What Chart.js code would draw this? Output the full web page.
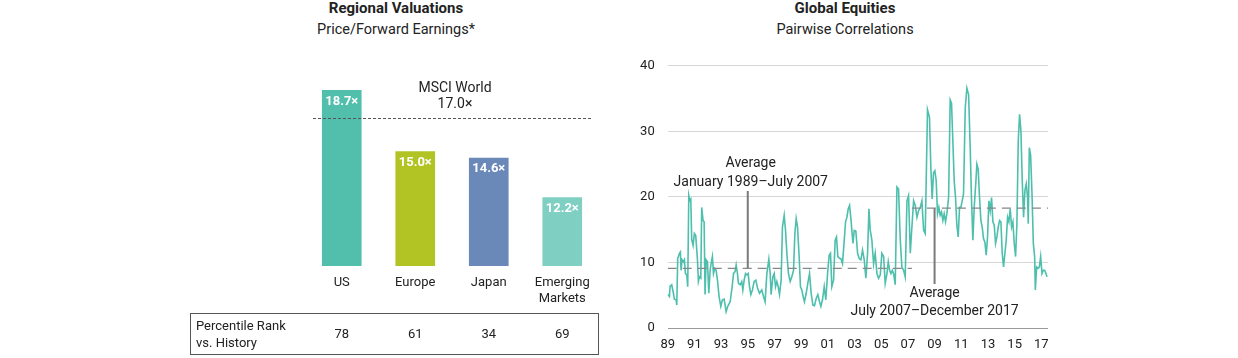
<!DOCTYPE html>
<html>
<head>
<meta charset="utf-8">
<script src="https://cdn.jsdelivr.net/npm/chart.js@4.4.1/dist/chart.umd.min.js"></script>
<style>
  body { margin: 0; background: #fff; font-family: Roboto, sans-serif; color: #222; }
  #page { position: relative; width: 1238px; height: 358px; overflow: hidden; }
  .title { position: absolute; text-align: center; font-size: 14.5px; line-height: 17px; }
  .title b { display: block; font-weight: 700; font-size: 15px; }
  .title span { display: block; margin-top: 4px; }
  .box { position: absolute; }
</style>
</head>
<body>
<div id="page">
  <div class="title" style="left:296px; top:0; width:200px;"><b>Regional Valuations</b><span>Price/Forward Earnings*</span></div>
  <div class="title" style="left:745px; top:0; width:200px;"><b>Global Equities</b><span>Pairwise Correlations</span></div>
  <div class="box" style="left:180px; top:60px; width:430px; height:298px;"><canvas id="valChart"></canvas></div>
  <div class="box" style="left:620px; top:45px; width:440px; height:313px;"><canvas id="corrChart"></canvas></div>
</div>
<script>
// left panel: regional valuations
const regions = ['US', 'Europe', 'Japan', ['Emerging', 'Markets']];
const peRatios = [18.7, 15.0, 14.6, 12.2];
const percentileRanks = [78, 61, 34, 69];
const barColors = ['#52bfad', '#b1c424', '#6a88b8', '#7fd0c3'];
const msciWorld = 17.0;

// right panel: pairwise correlations (year, value)
const corrYears = [
  1989.00, 1989.13, 1989.18, 1989.30, 1989.43, 1989.50, 1989.63, 1989.68, 1989.75, 1989.88,
  1989.95, 1990.00, 1990.08, 1990.18, 1990.25, 1990.33, 1990.43, 1990.50, 1990.58, 1990.65,
  1990.73, 1990.80, 1990.90, 1991.00, 1991.10, 1991.23, 1991.30, 1991.38, 1991.48, 1991.55,
  1991.65, 1991.73, 1991.80, 1991.88, 1991.98, 1992.08, 1992.18, 1992.25, 1992.35, 1992.43,
  1992.53, 1992.63, 1992.73, 1992.85, 1992.98, 1993.10, 1993.23, 1993.38, 1993.50, 1993.68,
  1993.83, 1993.93, 1994.05, 1994.13, 1994.23, 1994.30, 1994.43, 1994.55, 1994.63, 1994.73,
  1994.83, 1994.93, 1995.03, 1995.13, 1995.23, 1995.35, 1995.48, 1995.60, 1995.73, 1995.88,
  1996.05, 1996.18, 1996.30, 1996.43, 1996.58, 1996.68, 1996.75, 1996.88, 1996.98, 1997.08,
  1997.18, 1997.28, 1997.38, 1997.50, 1997.60, 1997.73, 1997.83, 1997.93, 1998.05, 1998.18,
  1998.30, 1998.43, 1998.53, 1998.63, 1998.73, 1998.85, 1998.95, 1999.05, 1999.15, 1999.25,
  1999.38, 1999.50, 1999.63, 1999.75, 1999.88, 2000.00, 2000.13, 2000.25, 2000.38, 2000.48,
  2000.60, 2000.73, 2000.85, 2000.98, 2001.10, 2001.20, 2001.30, 2001.43, 2001.55, 2001.65,
  2001.75, 2001.88, 2001.98, 2002.10, 2002.23, 2002.33, 2002.43, 2002.53, 2002.63, 2002.75,
  2002.88, 2002.98, 2003.10, 2003.23, 2003.35, 2003.48, 2003.60, 2003.73, 2003.85, 2003.98,
  2004.08, 2004.18, 2004.30, 2004.43, 2004.55, 2004.68, 2004.80, 2004.93, 2005.05, 2005.18,
  2005.30, 2005.43, 2005.53, 2005.63, 2005.73, 2005.83, 2005.93, 2006.05, 2006.18, 2006.30,
  2006.43, 2006.55, 2006.68, 2006.80, 2006.93, 2007.05, 2007.18, 2007.30, 2007.43, 2007.55,
  2007.68, 2007.80, 2007.93, 2008.05, 2008.18, 2008.30, 2008.47, 2008.62, 2008.72, 2008.82,
  2008.92, 2009.02, 2009.12, 2009.22, 2009.32, 2009.42, 2009.52, 2009.62, 2009.72, 2009.82,
  2009.92, 2010.05, 2010.17, 2010.27, 2010.37, 2010.47, 2010.57, 2010.67, 2010.77, 2010.87,
  2010.97, 2011.07, 2011.17, 2011.30, 2011.42, 2011.55, 2011.67, 2011.77, 2011.87, 2011.97,
  2012.10, 2012.17, 2012.27, 2012.37, 2012.47, 2012.57, 2012.67, 2012.77, 2012.87, 2012.97,
  2013.07, 2013.17, 2013.27, 2013.37, 2013.47, 2013.57, 2013.67, 2013.77, 2013.87, 2013.97,
  2014.07, 2014.17, 2014.27, 2014.37, 2014.47, 2014.57, 2014.67, 2014.77, 2014.87, 2014.97,
  2015.07, 2015.17, 2015.27, 2015.37, 2015.47, 2015.57, 2015.67, 2015.77, 2015.87, 2015.97,
  2016.02, 2016.10, 2016.20, 2016.30, 2016.40, 2016.50, 2016.55, 2016.65, 2016.75, 2016.85,
  2016.95, 2017.05, 2017.15, 2017.25, 2017.35, 2017.42
];
const corrValues = [
  5.1, 4.8, 6.4, 6.6, 5.3, 4.4, 4.3, 3.5, 10.6, 11.4,
  11.6, 8.8, 10.4, 10.1, 10.4, 8.3, 8.1, 6.3, 20.2, 19.5,
  19.7, 13.5, 12.6, 14.4, 14.1, 10.4, 7.1, 7.8, 7.6, 18.4,
  16.4, 16.2, 5.1, 10.4, 10.1, 5.3, 8.8, 9.8, 10.9, 8.3,
  9.1, 8.8, 7.3, 4.8, 3.3, 4.3, 4.4, 2.5, 3.3, 4.0,
  6.3, 8.3, 8.6, 9.6, 8.3, 6.8, 6.6, 7.1, 5.8, 7.3,
  8.3, 8.1, 8.3, 6.3, 5.1, 5.8, 7.1, 7.3, 6.1, 5.3,
  5.8, 4.8, 4.0, 8.3, 10.5, 8.3, 5.1, 7.8, 8.3, 6.3,
  7.1, 6.3, 5.1, 7.3, 15.4, 17.2, 14.9, 11.4, 8.3, 7.1,
  7.8, 8.8, 14.4, 16.7, 15.4, 10.9, 6.3, 5.8, 4.8, 4.0,
  5.3, 6.8, 8.3, 5.3, 3.5, 3.4, 4.5, 5.1, 4.0, 3.3,
  4.3, 6.3, 4.3, 8.3, 11.1, 11.4, 6.3, 7.3, 13.4, 13.9,
  10.9, 10.6, 10.6, 9.8, 13.4, 16.2, 16.9, 18.2, 18.7, 16.2,
  12.9, 14.9, 14.8, 11.4, 10.6, 10.4, 11.9, 10.4, 7.6, 11.4,
  18.2, 14.9, 13.4, 9.8, 11.4, 8.3, 7.6, 8.1, 11.4, 10.9,
  6.8, 8.3, 10.1, 8.8, 8.3, 8.8, 8.3, 6.6, 21.5, 21.2,
  13.4, 9.3, 8.8, 7.8, 19.4, 20.2, 11.4, 15.4, 19.4, 18.7,
  16.9, 17.9, 18.4, 19.4, 14.9, 14.4, 33.3, 32.1, 24.5, 19.7,
  23.7, 24.0, 22.5, 17.4, 18.4, 17.2, 17.7, 16.4, 17.4, 16.2,
  17.4, 19.9, 34.8, 34.3, 28.5, 22.5, 19.9, 15.7, 13.9, 18.4,
  18.4, 19.4, 20.5, 33.6, 36.6, 35.6, 27.5, 19.4, 13.4, 18.4,
  22.5, 25.0, 24.2, 19.9, 16.4, 15.4, 13.6, 13.1, 11.1, 13.9,
  19.4, 17.9, 19.9, 16.2, 15.7, 12.9, 13.9, 15.4, 16.4, 16.2,
  11.4, 9.3, 11.4, 13.4, 16.9, 16.2, 18.2, 15.4, 16.2, 12.9,
  10.9, 15.9, 28.5, 32.6, 30.1, 22.5, 16.9, 21.0, 22.0, 19.9,
  15.9, 27.5, 26.3, 20.5, 12.9, 10.9, 5.8, 9.3, 9.1, 9.3,
  10.9, 8.3, 8.8, 8.8, 8.3, 7.8
];
const xTickYears = [1989, 1991, 1993, 1995, 1997, 1999, 2001, 2003, 2005, 2007, 2009, 2011, 2013, 2015, 2017];
const avgBefore = 9.1;   // Jan 1989 - Jul 2007
const avgAfter = 18.3;   // Jul 2007 - Dec 2017

const FONT = 'Roboto, sans-serif';
const TEXT = '#222';

// bar value labels, MSCI line and the percentile table
const valExtras = {
  id: 'valExtras',
  afterDatasetsDraw(chart) {
    const ctx = chart.ctx, y = chart.scales.y, area = chart.chartArea;
    const meta = chart.getDatasetMeta(0);
    ctx.save();
    // dashed MSCI World line
    const my = Math.round(y.getPixelForValue(msciWorld)) + 0.5;
    ctx.strokeStyle = '#555';
    ctx.lineWidth = 1;
    ctx.setLineDash([3, 2]);
    ctx.beginPath();
    ctx.moveTo(area.left + 8, my);
    ctx.lineTo(area.right - 8, my);
    ctx.stroke();
    ctx.setLineDash([]);
    ctx.fillStyle = TEXT;
    ctx.font = '14px ' + FONT;
    ctx.textAlign = 'center';
    ctx.textBaseline = 'middle';
    const mx = (meta.data[1].x + meta.data[2].x) / 2 + 3;
    ctx.fillText('MSCI World', mx, my - 30);
    ctx.fillText(msciWorld.toFixed(1) + '×', mx, my - 14);
    // value labels inside bars
    ctx.fillStyle = '#fff';
    ctx.font = 'bold 13px ' + FONT;
    meta.data.forEach((bar, i) => {
      ctx.fillText(peRatios[i].toFixed(1) + '×', bar.x, bar.y + 12);
    });
    // table
    ctx.strokeStyle = '#555';
    ctx.strokeRect(10.5, 253.5, 408, 41);
    ctx.fillStyle = TEXT;
    ctx.font = '13px ' + FONT;
    ctx.textAlign = 'left';
    ctx.fillText('Percentile Rank', 16, 267);
    ctx.fillText('vs. History', 16, 284);
    ctx.textAlign = 'center';
    meta.data.forEach((bar, i) => {
      ctx.fillText(String(percentileRanks[i]), bar.x, 275);
    });
    ctx.restore();
  }
};

new Chart(document.getElementById('valChart'), {
  type: 'bar',
  data: {
    labels: regions,
    datasets: [{
      data: peRatios,
      backgroundColor: barColors,
      borderColor: 'rgba(255,255,255,0.35)',
      borderWidth: 1,
      barThickness: 41
    }]
  },
  options: {
    responsive: true,
    maintainAspectRatio: false,
    animation: false,
    layout: { padding: { left: 125, right: 11, top: 8, bottom: 0 } },
    plugins: { legend: { display: false }, tooltip: { enabled: false } },
    scales: {
      x: {
        grid: { display: false, drawTicks: false },
        border: { display: false },
        ticks: { color: TEXT, font: { family: FONT, size: 13 }, padding: 9, maxRotation: 0 },
        afterFit(scale) { scale.height = 92; }
      },
      y: { display: false, min: 8, max: 20 }
    }
  },
  plugins: [valExtras]
});

// annotation text for the average lines
const corrNotes = {
  id: 'corrNotes',
  afterDatasetsDraw(chart) {
    const ctx = chart.ctx, x = chart.scales.x, y = chart.scales.y;
    ctx.save();
    ctx.fillStyle = TEXT;
    ctx.font = '14px ' + FONT;
    ctx.textAlign = 'center';
    ctx.textBaseline = 'middle';
    const x1 = x.getPixelForValue(1995) + 3;
    ctx.fillText('Average', x1, y.getPixelForValue(20.9) - 28);
    ctx.fillText('January 1989–July 2007', x1, y.getPixelForValue(20.9) - 9);
    const x2 = x.getPixelForValue(2009);
    ctx.fillText('Average', x2, y.getPixelForValue(6.7) + 9);
    ctx.fillText('July 2007–December 2017', x2, y.getPixelForValue(6.7) + 27);
    ctx.restore();
  }
};

const refLine = (pts, dash, width, color) => ({
  data: pts.map(p => ({ x: p[0], y: p[1] })),
  borderColor: color,
  borderWidth: width,
  borderDash: dash,
  pointRadius: 0,
  fill: false
});

new Chart(document.getElementById('corrChart'), {
  type: 'line',
  data: {
    datasets: [
      refLine([[1989, avgBefore], [2007.3, avgBefore]], [9, 6], 1.3, '#888'),
      refLine([[2007.3, avgAfter], [2017.5, avgAfter]], [9, 6], 1.3, '#888'),
      refLine([[1995, avgBefore], [1995, 20.9]], [], 2, '#7a7a7a'),
      refLine([[2009, avgAfter], [2009, 6.7]], [], 2, '#7a7a7a'),
      {
        data: corrYears.map((yr, i) => ({ x: yr, y: corrValues[i] })),
        borderColor: '#4dbfac',
        borderWidth: 1.6,
        pointRadius: 0,
        tension: 0,
        fill: false
      }
    ]
  },
  options: {
    responsive: true,
    maintainAspectRatio: false,
    animation: false,
    layout: { padding: { left: 0, right: 12, top: 10, bottom: 0 } },
    plugins: { legend: { display: false }, tooltip: { enabled: false } },
    scales: {
      x: {
        type: 'linear',
        min: 1989,
        max: 2017.5,
        grid: { display: false, drawTicks: false },
        border: { display: false },
        afterBuildTicks(scale) { scale.ticks = xTickYears.map(v => ({ value: v })); },
        ticks: {
          color: TEXT,
          font: { family: FONT, size: 13 },
          padding: 9,
          maxRotation: 0,
          autoSkip: false,
          callback: v => String(v % 100).padStart(2, '0')
        },
        afterFit(scale) { scale.height = 30; }
      },
      y: {
        min: 0,
        max: 40,
        grid: {
          drawTicks: false,
          color: ctx => ctx.tick && ctx.tick.value === 0 ? '#9a9a9a' : '#d6d6d6',
          lineWidth: 1
        },
        border: { display: false },
        ticks: { stepSize: 10, color: TEXT, font: { family: FONT, size: 13 }, padding: 13 },
        afterFit(scale) { scale.width = 47.7; }
      }
    }
  },
  plugins: [corrNotes]
});
</script>
</body>
</html>
